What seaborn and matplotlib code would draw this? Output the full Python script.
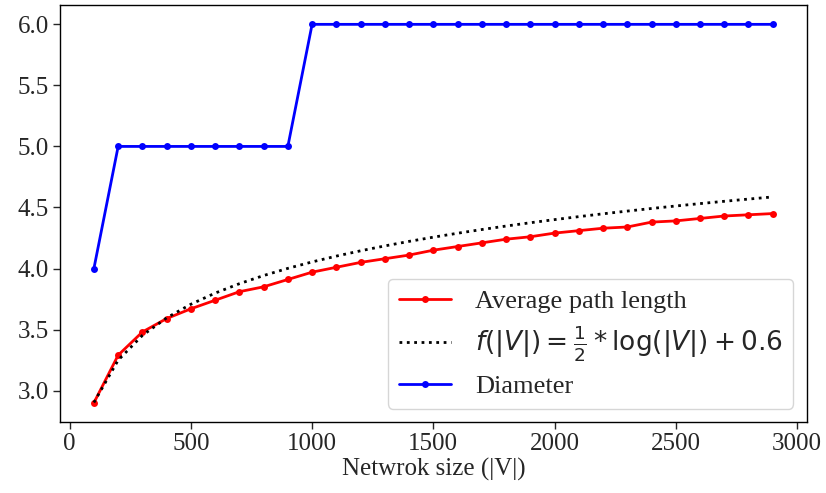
import numpy as np
import pandas as pd
import matplotlib
matplotlib.use("Agg")
import matplotlib.pyplot as plt
import seaborn as sns

# Network sizes |V|
network_size = list(range(100, 3000, 100))

# Measured average shortest path length per network size
avg_path_length = [2.90, 3.29, 3.48, 3.59, 3.67, 3.74, 3.81, 3.85, 3.91, 3.97,
                   4.01, 4.05, 4.08, 4.11, 4.15, 4.18, 4.21, 4.24, 4.26, 4.29,
                   4.31, 4.33, 4.34, 4.38, 4.39, 4.41, 4.43, 4.44, 4.45]

# Measured diameter per network size
diameter = [4, 5, 5, 5, 5, 5, 5, 5, 5, 6,
            6, 6, 6, 6, 6, 6, 6, 6, 6, 6,
            6, 6, 6, 6, 6, 6, 6, 6, 6]

# Fitted curve f(|V|) = 1/2 * log(|V|) + 0.6
fit_coef = 0.5
fit_offset = 0.6
fit_values = [fit_coef * np.log(v) + fit_offset for v in network_size]

df = pd.DataFrame({
    "size": network_size,
    "apl": avg_path_length,
    "fit": fit_values,
    "diam": diameter,
})

sns.set_style("ticks")
plt.rcParams["font.family"] = ["Liberation Serif", "DejaVu Serif"]
plt.rcParams["mathtext.fontset"] = "dejavusans"

FS = 18

fig, ax = plt.subplots(figsize=(8.26, 4.93), dpi=100)
fig.subplots_adjust(left=0.0726, right=0.9766, top=0.989, bottom=0.1446)

sns.lineplot(data=df, x="size", y="apl", ax=ax, color="red", marker="o",
             markersize=5, markeredgewidth=0, linewidth=2,
             label="Average path length")
sns.lineplot(data=df, x="size", y="fit", ax=ax, color="black",
             linestyle=":", linewidth=2,
             label=r"$f(|V|) = \frac{1}{2} * \log(|V|) + 0.6$")
sns.lineplot(data=df, x="size", y="diam", ax=ax, color="blue", marker="o",
             markersize=5, markeredgewidth=0, linewidth=2,
             label="Diameter")

ax.set_xlabel("Netwrok size (|V|)", fontsize=FS, labelpad=2)
ax.set_ylabel("")
ax.set_xticks([0, 500, 1000, 1500, 2000, 2500, 3000])
ax.set_yticks([3.0, 3.5, 4.0, 4.5, 5.0, 5.5, 6.0])
ax.set_yticklabels(["3.0", "3.5", "4.0", "4.5", "5.0", "5.5", "6.0"])
ax.tick_params(labelsize=FS, direction="out", length=5, width=1, pad=3)
for s in ax.spines.values():
    s.set_visible(True)
    s.set_linewidth(1)
    s.set_color("black")

ax.legend(loc="lower right", fontsize=19, frameon=True, fancybox=True,
          framealpha=0.8, edgecolor="#cccccc", borderaxespad=0.5,
          labelspacing=0.4, handletextpad=0.9)

fig.savefig("out.png", dpi=100)
